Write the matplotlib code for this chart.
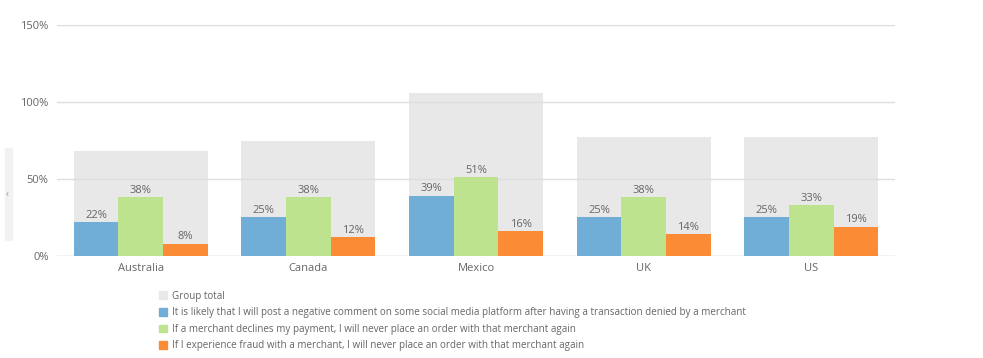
import matplotlib.pyplot as plt
import matplotlib.patches as mpatches
import numpy as np

plt.rcParams['font.family'] = ['Open Sans', 'DejaVu Sans']

countries = ['Australia', 'Canada', 'Mexico', 'UK', 'US']
social_post = [22, 25, 39, 25, 25]
never_after_decline = [38, 38, 51, 38, 33]
never_after_fraud = [8, 12, 16, 14, 19]
group_total = [a + b + c for a, b, c in zip(social_post, never_after_decline, never_after_fraud)]

labels = ['Group total',
          'It is likely that I will post a negative comment on some social media platform after having a transaction denied by a merchant',
          'If a merchant declines my payment, I will never place an order with that merchant again',
          'If I experience fraud with a merchant, I will never place an order with that merchant again']
colors = ['#e8e8e8', '#70aed8', '#bde38e', '#fb8c35']
text_color = '#666666'

fig = plt.figure(figsize=(9.83, 3.58), dpi=100)
ax = fig.add_axes([0.058, 0.285, 0.8525, 0.645])

x = np.arange(len(countries))
group_w = 0.8
sub_w = group_w / 3

ax.bar(x, group_total, width=group_w, color=colors[0], zorder=1)
series = [social_post, never_after_decline, never_after_fraud]
for i, vals in enumerate(series):
    pos = x - group_w / 2 + sub_w * (i + 0.5)
    ax.bar(pos, vals, width=sub_w, color=colors[i + 1], zorder=3)
    for p, v in zip(pos, vals):
        ax.text(p, v + 1, f'{v}%', ha='center', va='bottom', fontsize=8, color=text_color, zorder=4)

ax.set_xlim(-0.5, len(countries) - 0.5)
ax.set_ylim(0, 150)
ax.set_yticks([0, 50, 100, 150])
ax.set_yticklabels(['0%', '50%', '100%', '150%'])
ax.set_xticks(x)
ax.set_xticklabels(countries)
ax.yaxis.grid(True, color='#dddddd', linewidth=1, zorder=2)
ax.set_axisbelow(False)
for s in ax.spines.values():
    s.set_visible(False)
ax.tick_params(axis='both', length=0, labelsize=8, colors=text_color)
ax.tick_params(axis='y', pad=6)
ax.tick_params(axis='x', pad=5)
ax.axhline(0, color='#dddddd', linewidth=1, zorder=2)

handles = [mpatches.Patch(color=c) for c in colors]
fig.legend(handles, labels, loc='upper left', bbox_to_anchor=(0.162, 0.188),
           frameon=False, fontsize=7.1, labelcolor=text_color,
           handlelength=0.8, handleheight=0.8, handletextpad=0.5,
           labelspacing=0.56, borderaxespad=0, borderpad=0)

# side panel remnant at left edge
fig.patches.append(mpatches.Rectangle((5 / 983, 1 - 240 / 358), 7 / 983, 92 / 358,
                                      transform=fig.transFigure, color='#f2f2f2', zorder=0))
fig.text(7.5 / 983, 1 - 194 / 358, '‹', fontsize=7, color='#999999', ha='center', va='center')

fig.savefig('out.png', dpi=100)
